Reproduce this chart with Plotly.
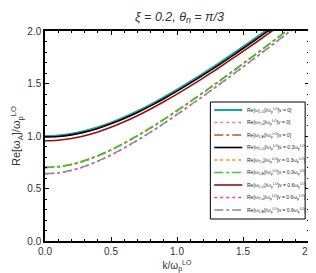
import plotly.graph_objects as go

k = [0.0, 0.1, 0.2, 0.3, 0.4, 0.5, 0.6, 0.7, 0.8, 0.9, 1.0,
     1.1, 1.2, 1.3, 1.4, 1.5, 1.6, 1.7, 1.8, 1.9, 2.0]

# v = 0
LO_v0 = [1.000, 1.005, 1.021, 1.047, 1.083, 1.126, 1.178, 1.236, 1.299, 1.368, 1.441,
         1.517, 1.596, 1.678, 1.763, 1.849, 1.937, 2.027, 2.117, 2.209, 2.302]
T_v0 = [0.700, 0.707, 0.729, 0.764, 0.811, 0.867, 0.931, 1.002, 1.077, 1.157, 1.240,
        1.326, 1.414, 1.504, 1.595, 1.688, 1.781, 1.876, 1.971, 2.067, 2.164]
LB_v0 = [0.702, 0.709, 0.731, 0.766, 0.813, 0.869, 0.933, 1.004, 1.079, 1.159, 1.242,
         1.328, 1.416, 1.506, 1.597, 1.690, 1.783, 1.878, 1.973, 2.069, 2.166]
# v = 0.3
LO_v03 = [0.990, 0.995, 1.011, 1.037, 1.072, 1.116, 1.167, 1.224, 1.287, 1.355, 1.427,
          1.503, 1.582, 1.663, 1.747, 1.833, 1.920, 2.009, 2.099, 2.190, 2.282]
T_v03 = [0.698, 0.705, 0.727, 0.762, 0.809, 0.865, 0.929, 1.000, 1.075, 1.155, 1.238,
         1.324, 1.412, 1.502, 1.593, 1.686, 1.779, 1.874, 1.969, 2.065, 2.162]
LB_v03 = [0.700, 0.707, 0.729, 0.764, 0.811, 0.867, 0.931, 1.002, 1.077, 1.157, 1.240,
          1.326, 1.414, 1.504, 1.595, 1.688, 1.781, 1.876, 1.971, 2.067, 2.164]
# v = 0.6
LO_v06 = [0.955, 0.960, 0.977, 1.003, 1.039, 1.083, 1.135, 1.193, 1.257, 1.326, 1.399,
          1.475, 1.554, 1.636, 1.720, 1.806, 1.893, 1.982, 2.072, 2.163, 2.256]
T_v06 = [0.640, 0.648, 0.672, 0.709, 0.759, 0.818, 0.885, 0.958, 1.036, 1.118, 1.203,
         1.291, 1.380, 1.471, 1.563, 1.657, 1.751, 1.846, 1.942, 2.039, 2.136]
LB_v06 = [0.642, 0.650, 0.674, 0.711, 0.761, 0.820, 0.887, 0.960, 1.038, 1.120, 1.205,
          1.293, 1.382, 1.473, 1.565, 1.659, 1.753, 1.848, 1.944, 2.041, 2.138]

sup = "ω<sub>p</sub><sup>LO</sup>"
labels = [
    "Re[ω<sub>L,O</sub>]/" + sup + "[v = 0]",
    "Re[ω<sub>T,±</sub>]/" + sup + "[v = 0]",
    "Re[ω<sub>L,B</sub>]/" + sup + "[v = 0]",
    "Re[ω<sub>L,O</sub>]/" + sup + "[v = 0.3" + sup + "]",
    "Re[ω<sub>T,±</sub>]/" + sup + "[v = 0.3" + sup + "]",
    "Re[ω<sub>L,B</sub>]/" + sup + "[v = 0.3" + sup + "]",
    "Re[ω<sub>L,O</sub>]/" + sup + "[v = 0.6" + sup + "]",
    "Re[ω<sub>T,±</sub>]/" + sup + "[v = 0.6" + sup + "]",
    "Re[ω<sub>L,B</sub>]/" + sup + "[v = 0.6" + sup + "]",
]
series = [LO_v0, T_v0, LB_v0, LO_v03, T_v03, LB_v03, LO_v06, T_v06, LB_v06]
colors = ["#1fa39c", "#f07c7c", "#a0623a", "#000000", "#ff8c1a", "#33cc33",
          "#9b0d0d", "#e23ee2", "#8c8c8c"]
dashes = ["solid", "dot", "dashdot", "solid", "dot", "dashdot", "solid", "dot", "dashdot"]
widths = [2.2, 1.5, 1.5, 1.6, 1.5, 1.5, 1.6, 1.5, 1.5]

fig = go.Figure()
for ys, c, d, w, lab in zip(series, colors, dashes, widths, labels):
    fig.add_trace(go.Scatter(x=k, y=ys, mode="lines", name=lab,
                             line=dict(color=c, dash=d, width=w, shape="spline"),
                             showlegend=False))

# manual legend box
L, R, T, B = 206, 304, 94, 211
x0p, x1p = 35, 308
y0p, y1p = 233, 23
def px(v): return (v - x0p) / (x1p - x0p)
def py(v): return (y0p - v) / (y0p - y1p)

shapes = [dict(type="rect", xref="paper", yref="paper", x0=px(L), x1=px(R), y0=py(B), y1=py(T),
               line=dict(color="black", width=1), fillcolor="white", layer="above")]
annotations = []
for i, (c, d, w, lab) in enumerate(zip(colors, dashes, widths, labels)):
    yy = 102 + 12.5 * i
    shapes.append(dict(type="line", xref="paper", yref="paper", x0=px(210), x1=px(239),
                       y0=py(yy), y1=py(yy), line=dict(color=c, dash=d, width=w), layer="above"))
    annotations.append(dict(xref="paper", yref="paper", x=px(242), y=py(yy), text=lab,
                            showarrow=False, xanchor="left", yanchor="middle",
                            font=dict(size=5, color="#222", family="Liberation Sans, Arial")))

axis_common = dict(range=[0, 2], showline=True, linecolor="black", linewidth=1.5, mirror="ticks",
                   ticks="inside", ticklen=4, tickcolor="black", tickwidth=1,
                   dtick=0.5, tick0=0, tickformat=".1f", showgrid=False, zeroline=False,
                   tickfont=dict(size=10, color="#333", family="Liberation Sans, Arial"),
                   minor=dict(ticks="inside", ticklen=2, dtick=0.1, tickcolor="black", showgrid=False))

fig.update_layout(
    width=316, height=273,
    margin=dict(l=35, r=8, t=23, b=40),
    plot_bgcolor="white", paper_bgcolor="white",
    title=dict(text="ξ = 0.2, θ<sub>n</sub> = π/3", x=(35 + 308) / 2 / 316, xanchor="center",
               y=0.985, yanchor="top",
               font=dict(size=12.5, color="#333", family="Liberation Sans, Arial", style="italic")),
    xaxis=dict(axis_common, title=dict(text="k/ω<sub>p</sub><sup>LO</sup>", standoff=6,
                                       font=dict(size=10, color="#333", family="Liberation Sans, Arial"))),
    yaxis=dict(axis_common, title=dict(text="Re[ω<sub>A</sub>]/ω<sub>p</sub><sup>LO</sup>", standoff=4,
                                       font=dict(size=11, color="#333", family="Liberation Sans, Arial"))),
    shapes=shapes, annotations=annotations, showlegend=False,
)

fig.write_html("out.html")
